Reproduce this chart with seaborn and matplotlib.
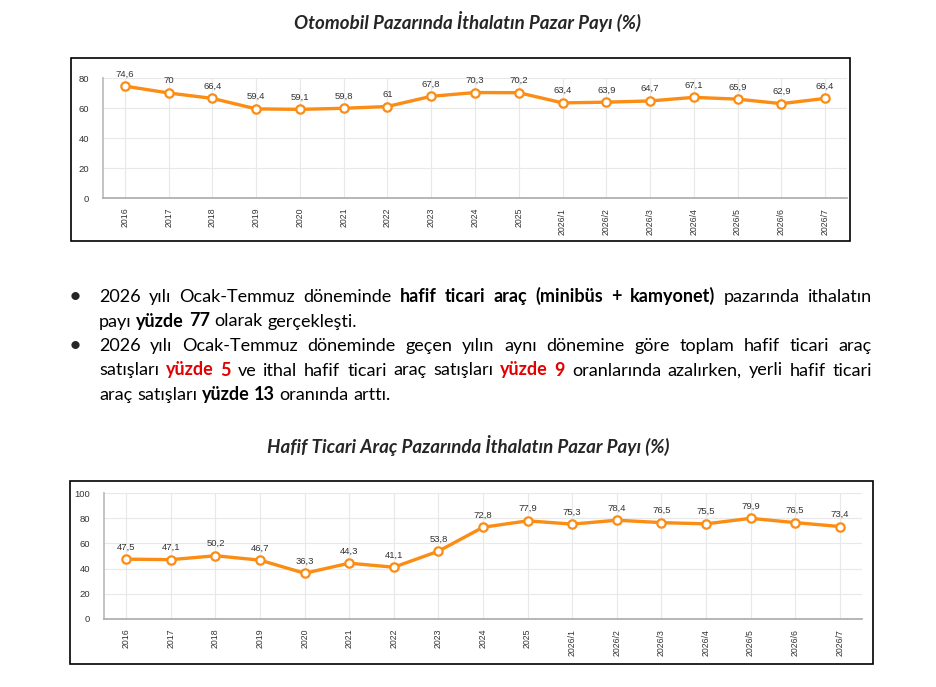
import matplotlib
matplotlib.use("Agg")
import matplotlib.pyplot as plt
import seaborn as sns
from matplotlib.patches import Rectangle

# data
periods = ["2016", "2017", "2018", "2019", "2020", "2021", "2022", "2023", "2024", "2025",
           "2026/1", "2026/2", "2026/3", "2026/4", "2026/5", "2026/6", "2026/7"]
otomobil_share = [74.6, 70, 66.4, 59.4, 59.1, 59.8, 61, 67.8, 70.3, 70.2,
                  63.4, 63.9, 64.7, 67.1, 65.9, 62.9, 66.4]
hafif_ticari_share = [47.5, 47.1, 50.2, 46.7, 36.3, 44.3, 41.1, 53.8, 72.8, 77.9,
                      75.3, 78.4, 76.5, 75.5, 79.9, 76.5, 73.4]
otomobil_yticks = [0, 20, 40, 60, 80]
hafif_yticks = [0, 20, 40, 60, 80, 100]

title_1 = "Otomobil Pazarında İthalatın Pazar Payı (%)"
title_2 = "Hafif Ticari Araç Pazarında İthalatın Pazar Payı (%)"

# bullet text: (text, style) with n = normal, b = bold, r = bold red
paragraphs = [
    [
        [("2026 yılı Ocak-Temmuz döneminde", "n"), ("hafif ticari araç (minibüs + kamyonet)", "b"),
         ("pazarında ithalatın", "n")],
        [("payı", "n"), ("yüzde 77", "b"), ("olarak gerçekleşti.", "n")],
    ],
    [
        [("2026 yılı Ocak-Temmuz döneminde geçen yılın aynı dönemine göre toplam hafif ticari araç", "n")],
        [("satışları", "n"), ("yüzde 5", "r"), ("ve ithal hafif ticari araç satışları", "n"),
         ("yüzde 9", "r"), ("oranlarında azalırken, yerli hafif ticari", "n")],
        [("araç satışları", "n"), ("yüzde 13", "b"), ("oranında arttı.", "n")],
    ],
]

sns.set_theme(style="white")
plt.rcParams["font.family"] = ["Lato", "DejaVu Sans"]

W, H = 936, 687
fig = plt.figure(figsize=(W / 100, H / 100), dpi=100)
fig.patch.set_facecolor("white")

ORANGE = "#fb8c14"
chart_font = ["Liberation Sans", "DejaVu Sans"]


def px_rect(x0, y0, x1, y1):
    return [x0 / W, 1 - y1 / H, (x1 - x0) / W, (y1 - y0) / H]


def draw_chart(rect, values, yticks):
    ax = fig.add_axes(rect)
    sns.lineplot(x=periods, y=values, ax=ax, sort=False, color=ORANGE, linewidth=2.4,
                 marker="o", markersize=6, markerfacecolor="white",
                 markeredgecolor=ORANGE, markeredgewidth=1.6, clip_on=False, zorder=3)
    ax.set_xlim(-0.5, len(periods) - 0.5)
    ax.set_ylim(0, yticks[-1])
    ax.set_yticks(yticks)
    ax.set_xticks(range(len(periods)))
    ax.set_xticklabels(periods, rotation=90, fontsize=6.3, color="#333333", family=chart_font)
    ax.set_yticklabels([str(t) for t in yticks], fontsize=6.8, color="#333333", family=chart_font)
    ax.grid(True, color="#e8e8e8", linewidth=0.8)
    ax.set_axisbelow(True)
    for s in ["top", "right"]:
        ax.spines[s].set_visible(False)
    ax.spines["left"].set_color("#bbbbbb")
    ax.spines["bottom"].set_color("#aaaaaa")
    ax.spines["bottom"].set_linewidth(1.2)
    ax.tick_params(axis="y", length=4, color="#aaaaaa", pad=6)
    ax.tick_params(axis="x", length=3, color="#cccccc", pad=4)
    ax.set_xlabel("")
    ax.set_ylabel("")
    for i, v in enumerate(values):
        ax.annotate(f"{v:g}".replace(".", ","), (i, v), xytext=(0, 5.5), textcoords="offset points",
                    ha="center", va="bottom", fontsize=6.8, color="#333333",
                    family=chart_font, annotation_clip=False)
    return ax


draw_chart(px_rect(103, 78, 847, 198), otomobil_share, otomobil_yticks)
draw_chart(px_rect(104, 493, 862, 619), hafif_ticari_share, hafif_yticks)

# frames around the charts
for x0, y0, x1, y1 in [(71, 58, 850, 241), (70, 481, 873, 664)]:
    r = px_rect(x0, y0, x1, y1)
    fig.patches.append(Rectangle((r[0], r[1]), r[2], r[3], transform=fig.transFigure,
                                 fill=False, edgecolor="black", linewidth=1.2))

fig.text(468 / W, 1 - 22 / H, title_1, ha="center", va="center", fontsize=13.5,
         fontweight="bold", fontstyle="italic")
fig.text(468 / W, 1 - 445 / H, title_2, ha="center", va="center", fontsize=13.5,
         fontweight="bold", fontstyle="italic")

# justified bullet text
renderer = fig.canvas.get_renderer()
TEXT_FS = 13
LEFT, RIGHT = 99, 872
baselines = [302, 326.5, 351, 375.5, 400]
styles = {"n": ("normal", "black"), "b": ("bold", "black"), "r": ("bold", "#e30000")}

tmp = [fig.text(0, 0, "a a", fontsize=TEXT_FS), fig.text(0, 0, "aa", fontsize=TEXT_FS)]
space_w = tmp[0].get_window_extent(renderer).width - tmp[1].get_window_extent(renderer).width
for t in tmp:
    t.remove()

line_idx = 0
for para in paragraphs:
    fig.text(75 / W, 1 - (baselines[line_idx] - 5) / H, "•", ha="center", va="center",
             fontsize=TEXT_FS + 3)
    for li, line in enumerate(para):
        words = []
        for seg, st in line:
            for w in seg.split(" "):
                words.append((w, st))
        objs = []
        for w, st in words:
            wt, col = styles[st]
            t = fig.text(0, 1 - baselines[line_idx] / H, w, fontsize=TEXT_FS, fontweight=wt,
                         color=col, va="baseline", ha="left")
            objs.append(t)
        widths = [t.get_window_extent(renderer).width for t in objs]
        last = li == len(para) - 1
        if last or len(objs) == 1:
            gap = space_w
        else:
            gap = max((RIGHT - LEFT - sum(widths)) / (len(objs) - 1), space_w * 0.6)
        x = LEFT
        for t, w in zip(objs, widths):
            t.set_x(x / W)
            x += w + gap
        line_idx += 1

fig.savefig("out.png", dpi=100, facecolor="white")
